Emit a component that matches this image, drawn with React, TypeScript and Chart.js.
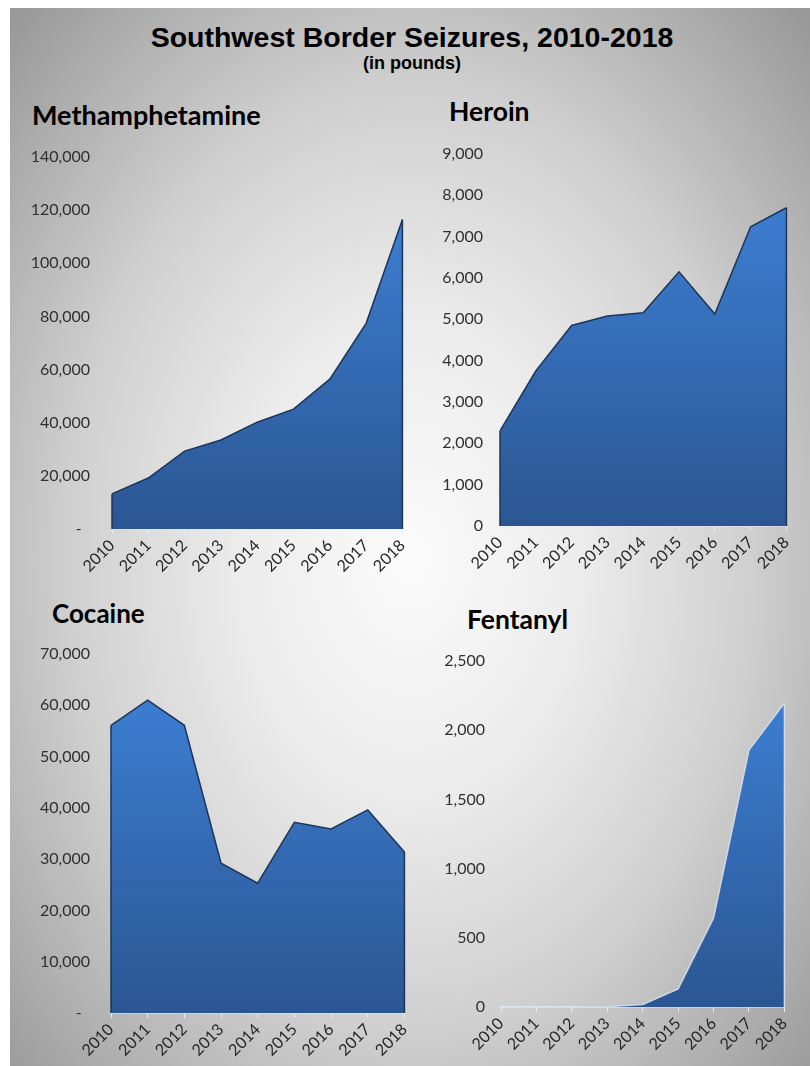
import React, { useEffect, useRef } from "react";
import { Chart, registerables } from "chart.js";

Chart.register(...registerables);

const years = ["2010", "2011", "2012", "2013", "2014", "2015", "2016", "2017", "2018"];
const methValues = [13200, 19200, 29300, 33500, 40200, 45100, 56400, 77400, 116500];
const heroinValues = [2300, 3750, 4850, 5080, 5160, 6150, 5130, 7240, 7700];
const cocaineValues = [56100, 61000, 56100, 29200, 25300, 37200, 35900, 39600, 31400];
const fentanylValues = [0, 0, 0, 2, 18, 130, 643, 1857, 2197];

const mainTitle = "Southwest Border Seizures, 2010-2018";
const subTitle = "(in pounds)";

type PanelProps = {
  values: number[];
  max: number;
  step: number;
  dashZero: boolean;
  left: number;
  top: number;
  width: number;
  height: number;
  yWidth: number;
  yPad: number;
  padTop: number;
  line: string;
};

const edgePlugin = {
  id: "edges",
  afterDatasetsDraw(chart: any) {
    const meta = chart.getDatasetMeta(0);
    const ds = chart.data.datasets[0];
    const pts = meta.data;
    if (!pts || pts.length === 0) return;
    const bottom = chart.scales.y.getPixelForValue(0);
    const ctx = chart.ctx;
    ctx.save();
    ctx.strokeStyle = ds.borderColor;
    ctx.lineWidth = ds.borderWidth;
    ctx.beginPath();
    ctx.moveTo(pts[0].x, bottom);
    ctx.lineTo(pts[0].x, pts[0].y);
    ctx.moveTo(pts[pts.length - 1].x, pts[pts.length - 1].y);
    ctx.lineTo(pts[pts.length - 1].x, bottom);
    ctx.stroke();
    ctx.restore();
  },
};

function Panel(p: PanelProps) {
  const ref = useRef<HTMLCanvasElement | null>(null);
  useEffect(() => {
    if (!ref.current) return;
    const peak = Math.max(...p.values);
    const chart = new Chart(ref.current, {
      type: "line",
      data: {
        labels: years,
        datasets: [
          {
            data: p.values,
            fill: "origin",
            borderColor: p.line,
            borderWidth: 1.5,
            pointRadius: 0,
            tension: 0,
            backgroundColor: (ctx: any) => {
              const c = ctx.chart;
              const area = c.chartArea;
              if (!area) return "#3268b3";
              const t = c.scales.y.getPixelForValue(peak);
              const g = c.ctx.createLinearGradient(0, t, 0, area.bottom);
              g.addColorStop(0, "#3c7dd0");
              g.addColorStop(1, "#2b5693");
              return g;
            },
          },
        ],
      },
      options: {
        animation: false,
        responsive: false,
        maintainAspectRatio: false,
        layout: { padding: { top: p.padTop, right: 8, left: 0, bottom: 0 } },
        plugins: { legend: { display: false }, tooltip: { enabled: false } },
        scales: {
          x: {
            grid: {
              display: true,
              drawOnChartArea: false,
              drawTicks: true,
              tickLength: 5,
              color: "rgba(232,238,248,0.95)",
            },
            border: { display: true, color: "rgba(232,238,248,0.95)", width: 1.5 },
            ticks: {
              autoSkip: false,
              minRotation: 45,
              maxRotation: 45,
              padding: 2,
              color: "#262626",
              font: { family: "Lato", size: 16 },
            },
            afterFit: (s: any) => {
              s.height = 50;
            },
          },
          y: {
            min: 0,
            max: p.max,
            grid: { display: false, drawTicks: false, tickLength: 0 },
            border: { display: false },
            ticks: {
              stepSize: p.step,
              padding: p.yPad,
              color: "#303030",
              font: { family: "Lato", size: 16 },
              callback: (v: any) =>
                Number(v) === 0 && p.dashZero ? "-  " : Number(v).toLocaleString("en-US"),
            },
            afterFit: (s: any) => {
              s.width = p.yWidth;
            },
          },
        },
      },
      plugins: [edgePlugin],
    } as any);
    return () => chart.destroy();
  }, []);
  return (
    <canvas
      ref={ref}
      width={p.width}
      height={p.height}
      style={{ position: "absolute", left: p.left, top: p.top, width: p.width, height: p.height }}
    />
  );
}

const labelStyle = (left: number, top: number, size: number): React.CSSProperties => ({
  position: "absolute",
  left,
  top,
  fontFamily: "Lato, 'Open Sans', sans-serif",
  fontWeight: 700,
  fontSize: size,
  lineHeight: `${size}px`,
  color: "#000",
  whiteSpace: "nowrap",
});

export default function App() {
  return (
    <div style={{ position: "absolute", left: 0, top: 0, width: 810, height: 1066, overflow: "hidden" }}>
      <div
        style={{
          position: "absolute",
          left: 10,
          top: 8,
          width: 800,
          height: 1058,
          background:
            "radial-gradient(ellipse farthest-corner at 50% 52%, #fbfbfb 0%, #ececec 30%, #d0d0d0 60%, #979797 100%)",
        }}
      />
      <div
        style={{
          position: "absolute",
          left: 12,
          width: 800,
          top: 23,
          textAlign: "center",
          fontFamily: "'Liberation Sans', Arial, sans-serif",
          fontWeight: 700,
          fontSize: 28.5,
          lineHeight: "28px",
          color: "#000",
        }}
      >
        {mainTitle}
      </div>
      <div
        style={{
          position: "absolute",
          left: 12,
          width: 800,
          top: 54,
          textAlign: "center",
          fontFamily: "'Liberation Sans', Arial, sans-serif",
          fontWeight: 700,
          fontSize: 18,
          lineHeight: "18px",
          color: "#000",
        }}
      >
        {subTitle}
      </div>
      <div style={labelStyle(32, 101, 27)}>Methamphetamine</div>
      <div style={labelStyle(449, 98, 26.5)}>Heroin</div>
      <div style={labelStyle(52, 600, 26)}>Cocaine</div>
      <div style={labelStyle(467, 606, 26.5)}>Fentanyl</div>
      <Panel values={methValues} max={140000} step={20000} dashZero={true} left={10} top={117} width={408} height={462} yWidth={102} yPad={22} padTop={40} line="#1d3557" />
      <Panel values={heroinValues} max={9000} step={1000} dashZero={false} left={410} top={114} width={392} height={462} yWidth={90} yPad={17} padTop={40} line="#1d3557" />
      <Panel values={cocaineValues} max={70000} step={10000} dashZero={true} left={10} top={614} width={410} height={449} yWidth={101} yPad={21} padTop={40} line="#1d3557" />
      <Panel values={fentanylValues} max={2500} step={500} dashZero={false} left={410} top={621} width={390} height={436} yWidth={91} yPad={16} padTop={40} line="rgba(215,222,235,0.9)" />
    </div>
  );
}
